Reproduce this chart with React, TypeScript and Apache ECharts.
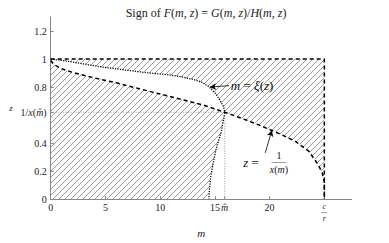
import React, { useEffect, useRef } from "react";
import * as echarts from "echarts";

// ---- data ----
const mHat = 15.9; // \hat m
const zHat = 0.62; // 1/x(\hat m)
const cOverR = 25; // c/r

// dashed curve z = 1/x(m)
const curveM = [0, 0.3, 1, 2, 4, 6, 8, 10, 12, 14, 15.9, 17.5, 19, 20.2, 21.1, 22.4, 23.6, 24.4, 24.8, 25, 25];
const curveZ = [0.99, 0.96, 0.93, 0.905, 0.865, 0.83, 0.79, 0.75, 0.71, 0.67, 0.62, 0.575, 0.53, 0.49, 0.46, 0.41, 0.34, 0.25, 0.19, 0.12, 0];

// dotted curve m = xi(z)
const xiM = [0, 1.5, 3, 4.5, 6, 7.5, 9, 10.5, 11.8, 13, 13.8, 14.5, 15.1, 15.5, 15.8, 15.9, 15.75, 15.55, 15.15, 14.85, 14.6, 14.5, 14.45];
const xiZ = [1, 0.985, 0.965, 0.945, 0.93, 0.915, 0.9, 0.89, 0.875, 0.855, 0.835, 0.8, 0.75, 0.7, 0.66, 0.62, 0.55, 0.47, 0.37, 0.26, 0.15, 0.07, 0];

// tick values
const xTicks = [0, 5, 10, 15, mHat, 20, cOverR];
const yTicks = [0, 0.2, 0.4, zHat, 0.8, 1, 1.2];

// annotation anchors (data coords)
const xiArrow = [[16.3, 0.81], [14.55, 0.8]];
const xiTextAt = [16.4, 0.81];
const curveArrow = [[19.6, 0.33], [20.2, 0.49]];
const zEqAt = [18.3, 0.262];
const fracAt = [20.85, 0.262];

const SERIF = "'Liberation Serif', 'DejaVu Serif', serif";

function makeHatch() {
  const s = 6;
  const c = document.createElement("canvas");
  c.width = s;
  c.height = s;
  const ctx = c.getContext("2d")!;
  ctx.strokeStyle = "#777";
  ctx.lineWidth = 0.75;
  for (const k of [0, s, 2 * s]) {
    ctx.beginPath();
    ctx.moveTo(k + 1, -1);
    ctx.lineTo(-1, k + 1);
    ctx.stroke();
  }
  return { image: c, repeat: "repeat", imageWidth: s, imageHeight: s };
}

export default function App() {
  const ref = useRef<HTMLDivElement>(null);
  useEffect(() => {
    if (!ref.current) return;
    const chart = echarts.init(ref.current, undefined, { renderer: "svg" });
    const hatch = makeHatch();

    const curvePts = curveM.map((m, i) => [m, curveZ[i]]);
    const xiPts = xiM.map((m, i) => [m, xiZ[i]]);
    const ci = curveM.indexOf(mHat);
    const xi = xiM.indexOf(mHat);

    // region A: below dashed curve, left of dotted curve
    const regionA = [
      [0, 0],
      ...xiPts.slice(xi).reverse(),
      ...curvePts.slice(0, ci).reverse(),
    ];
    // region B: above dashed curve, right of dotted curve, below z=1
    const regionB = [
      ...xiPts.slice(0, xi + 1),
      ...curvePts.slice(ci + 1),
      [cOverR, 1],
    ];
    const regions = [regionA, regionB];

    const rich = {
      i: { fontStyle: "italic", fontFamily: SERIF, fontSize: 10, color: "#222" },
      r: { fontFamily: SERIF, fontSize: 10, color: "#222" },
      s: { fontStyle: "italic", fontFamily: SERIF, fontSize: 8, color: "#222", lineHeight: 8 },
      b: { fontFamily: "'DejaVu Sans'", fontSize: 5, color: "#222", lineHeight: 4 },
    };

    chart.setOption({
      animation: false,
      backgroundColor: "#fff",
      title: {
        text: "Sign of {i|F}({i|m}, {i|z}) = {i|G}({i|m}, {i|z})/{i|H}({i|m}, {i|z})",
        left: 201,
        top: 2,
        textAlign: "center",
        textStyle: {
          fontFamily: SERIF,
          fontSize: 12,
          fontWeight: "normal",
          color: "#222",
          rich: {
            i: { fontStyle: "italic", fontFamily: SERIF, fontSize: 12, color: "#222" },
          },
        },
      },
      grid: { left: 50.7, right: 37.3, top: 17, bottom: 30.7 },
      xAxis: {
        type: "value",
        min: 0,
        max: 27.5,
        name: "m",
        nameLocation: "middle",
        nameGap: 20,
        nameTextStyle: { fontFamily: SERIF, fontStyle: "italic", fontSize: 11, color: "#222" },
        axisLine: { show: true, lineStyle: { color: "#888", width: 1 } },
        axisTick: { show: true, inside: true, length: 3, customValues: xTicks, lineStyle: { color: "#888" } },
        splitLine: { show: false },
        axisLabel: {
          customValues: xTicks,
          margin: 3,
          fontFamily: SERIF,
          fontSize: 10,
          color: "#222",
          rich,
          formatter: (v: number) => {
            if (Math.abs(v - mHat) < 1e-6) return "{i|m\u0302}";
            if (Math.abs(v - cOverR) < 1e-6) return "{s|c}\n{b|\u2500\u2500}\n{s|r}";
            return "{r|" + v + "}";
          },
        },
      },
      yAxis: {
        type: "value",
        min: 0,
        max: 1.3,
        name: "z",
        nameLocation: "middle",
        nameGap: 38,
        nameRotate: 0,
        nameTextStyle: { fontFamily: SERIF, fontStyle: "italic", fontSize: 9, color: "#222" },
        axisLine: { show: true, lineStyle: { color: "#888", width: 1 } },
        axisTick: { show: true, inside: true, length: 3, customValues: yTicks, lineStyle: { color: "#888" } },
        splitLine: { show: false },
        axisLabel: {
          customValues: yTicks,
          margin: 4,
          fontFamily: SERIF,
          fontSize: 10,
          color: "#222",
          rich,
          formatter: (v: number) => {
            if (Math.abs(v - zHat) < 1e-6) return "{r|1/}{i|x}{r|(}{i|m\u0302}{r|)}";
            return "{r|" + String(Math.round(v * 10) / 10) + "}";
          },
        },
      },
      series: [
        {
          type: "custom",
          coordinateSystem: "cartesian2d",
          silent: true,
          z: 1,
          data: [[0, 0], [1, 0]],
          renderItem: (params: any, api: any) => {
            const pts = regions[params.dataIndex].map((p) => api.coord(p));
            return {
              type: "polygon",
              shape: { points: pts },
              style: { fill: hatch, stroke: null },
            };
          },
        },
        {
          type: "line",
          data: [[0, zHat], [mHat, zHat], [mHat, 0]],
          showSymbol: false,
          silent: true,
          z: 2,
          lineStyle: { color: "#999", width: 1, type: [1, 1.5] },
        },
        {
          type: "line",
          data: curvePts,
          showSymbol: false,
          silent: true,
          z: 3,
          lineStyle: { color: "#000", width: 1.5, type: [4, 3] },
        },
        {
          type: "line",
          data: [[0, 1], [cOverR, 1], [cOverR, 0]],
          showSymbol: false,
          silent: true,
          z: 3,
          lineStyle: { color: "#000", width: 1.5, type: [4, 3] },
        },
        {
          type: "line",
          data: xiPts,
          showSymbol: false,
          silent: true,
          z: 3,
          lineStyle: { color: "#000", width: 1.3, type: [1.2, 1.3] },
          markLine: {
            silent: true,
            symbol: ["none", "arrow"],
            symbolSize: [5, 6],
            label: { show: false },
            lineStyle: { color: "#000", width: 0.8, type: "solid" },
            data: [
              [{ coord: xiArrow[0] }, { coord: xiArrow[1] }],
              [{ coord: curveArrow[0] }, { coord: curveArrow[1] }],
            ],
          },
          markPoint: {
            silent: true,
            symbol: "circle",
            symbolSize: 1,
            itemStyle: { color: "rgba(0,0,0,0)" },
            data: [
              {
                coord: xiTextAt,
                label: {
                  show: true,
                  position: "right",
                  distance: 0,
                  formatter: "{i|m} {r|=} {i|\u03be}{r|(}{i|z}{r|)}",
                  rich: {
                    i: { fontStyle: "italic", fontFamily: SERIF, fontSize: 13, color: "#111" },
                    r: { fontFamily: SERIF, fontSize: 13, color: "#111" },
                  },
                },
              },
              {
                coord: zEqAt,
                label: {
                  show: true,
                  position: "inside",
                  formatter: "{i|z} {r|=}",
                  rich: {
                    i: { fontStyle: "italic", fontFamily: SERIF, fontSize: 13, color: "#111" },
                    r: { fontFamily: SERIF, fontSize: 13, color: "#111" },
                  },
                },
              },
              {
                coord: fracAt,
                label: {
                  show: true,
                  position: "inside",
                  formatter: "{r|1}\n{b|\u2500\u2500\u2500\u2500\u2500}\n{i|x}{r|(}{i|m}{r|)}",
                  rich: {
                    i: { fontStyle: "italic", fontFamily: SERIF, fontSize: 10, color: "#111", lineHeight: 10, align: "center" },
                    r: { fontFamily: SERIF, fontSize: 10, color: "#111", lineHeight: 10, align: "center" },
                    b: { fontFamily: "'DejaVu Sans'", fontSize: 5, color: "#111", lineHeight: 4, align: "center" },
                  },
                },
              },
            ],
          },
        },
      ],
    });
    return () => chart.dispose();
  }, []);
  return (
    <div
      ref={ref}
      style={{ position: "fixed", left: 0, top: 0, width: 389, height: 243 }}
    />
  );
}
